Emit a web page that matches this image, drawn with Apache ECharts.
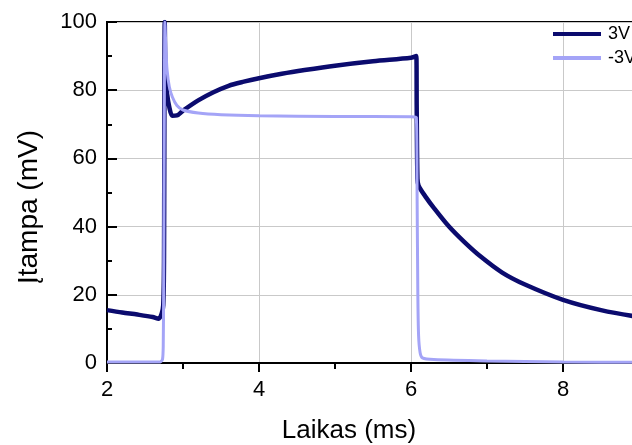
<!DOCTYPE html>
<html>
<head>
<meta charset="utf-8">
<script src="https://cdn.jsdelivr.net/npm/echarts@6/dist/echarts.min.js"></script>
<style>html,body{margin:0;padding:0;background:#fff;}#c{width:632px;height:445px;}</style>
</head>
<body>
<div id="c"></div>
<script>
// Series "3V"
const t3 = [2.0, 2.2, 2.4, 2.6, 2.68, 2.72, 2.74, 2.75, 2.76, 2.77, 2.79, 2.82, 2.86, 2.92, 3.0, 3.2, 3.4, 3.6, 3.8, 4.0, 4.3, 4.6, 5.0, 5.5, 6.0, 6.07, 6.075, 6.085, 6.1, 6.2, 6.3, 6.5, 6.7, 6.9, 7.2, 7.5, 8.0, 8.5, 9.0, 9.3];
const v3 = [15.5, 14.8, 14.2, 13.5, 13.0, 14.5, 17, 30, 100, 84, 79, 75, 72.5, 72.6, 74, 77, 79.4, 81.3, 82.5, 83.5, 84.8, 85.9, 87.2, 88.5, 89.5, 90, 75, 54, 52, 48.5, 45.5, 40, 35.5, 31.5, 26.5, 23, 18.5, 15.5, 13.5, 12.8];
// Series "-3V"
const tn = [2.0, 2.7, 2.73, 2.74, 2.745, 2.755, 2.762, 2.775, 2.79, 2.82, 2.86, 2.92, 3.0, 3.2, 3.5, 4.0, 5.0, 6.0, 6.07, 6.08, 6.09, 6.1, 6.12, 6.15, 6.3, 7.0, 8.0, 9.0, 10.0];
const vn = [0.3, 0.3, 1, 5, 20, 80, 100, 92, 86, 81, 78, 75.5, 74.2, 73.3, 72.8, 72.5, 72.3, 72.2, 72, 50, 20, 8, 3, 1.5, 1, 0.6, 0.3, 0.2, 0.2];
const seriesNames = ['3V', '-3V'];
const xTitle = 'Laikas (ms)';
const yTitle = 'Įtampa (mV)';

const FONT = "'Liberation Sans', Arial, sans-serif";
const zip = (a, b) => a.map((x, i) => [x, b[i]]);

const chart = echarts.init(document.getElementById('c'));
chart.setOption({
  animation: false,
  backgroundColor: '#fff',
  textStyle: { fontFamily: FONT },
  grid: { left: 107, top: 22, width: 608, height: 341, outerBoundsMode: 'none', containLabel: false, show: true, borderColor: '#000', borderWidth: 2, backgroundColor: 'transparent' },
  legend: {
    orient: 'vertical', left: 553, top: 25, padding: 0,
    itemWidth: 48, itemHeight: 4, itemGap: 6, icon: 'rect',
    textStyle: { fontFamily: FONT, fontSize: 18, color: '#000', lineHeight: 18, padding: [0, 0, 0, 2] },
    data: seriesNames
  },
  xAxis: {
    type: 'value', min: 2, max: 10, interval: 2,
    axisLine: { lineStyle: { color: '#000', width: 2 } },
    axisTick: { show: true, inside: false, length: 9, lineStyle: { color: '#000', width: 2 } },
    minorTick: { show: true, splitNumber: 2, length: 6, lineStyle: { color: '#000', width: 2 } },
    splitLine: { show: true, lineStyle: { color: '#c9c9c9', width: 1 } },
    axisLabel: { fontFamily: FONT, fontSize: 22, color: '#000', margin: 16 }
  },
  yAxis: {
    type: 'value', min: 0, max: 100, interval: 20,
    axisLine: { show: true, lineStyle: { color: '#000', width: 2 } },
    axisTick: { show: true, inside: true, length: 10, lineStyle: { color: '#000', width: 2 } },
    minorTick: { show: true, splitNumber: 2, length: 5, lineStyle: { color: '#000', width: 2 } },
    splitLine: { show: true, lineStyle: { color: '#c9c9c9', width: 1 } },
    axisLabel: { fontFamily: FONT, fontSize: 22, color: '#000', margin: 10 }
  },
  graphic: [
    { type: 'text', x: 349, y: 431, style: { text: xTitle, font: '26px ' + FONT, fill: '#000', textAlign: 'center', textVerticalAlign: 'middle' } },
    { type: 'text', x: 29, y: 207, rotation: Math.PI / 2, style: { text: yTitle, font: '28px ' + FONT, fill: '#000', textAlign: 'center', textVerticalAlign: 'middle' } }
  ],
  series: [
    { name: seriesNames[0], type: 'line', data: zip(t3, v3), showSymbol: false, smooth: 0.3, clip: true,
      lineStyle: { color: '#0b0b6e', width: 4.5 }, itemStyle: { color: '#0b0b6e' } },
    { name: seriesNames[1], type: 'line', data: zip(tn, vn), showSymbol: false, smooth: 0.2, clip: true,
      lineStyle: { color: '#a4a4f7', width: 3 }, itemStyle: { color: '#a4a4f7' } }
  ]
});
</script>
</body>
</html>
